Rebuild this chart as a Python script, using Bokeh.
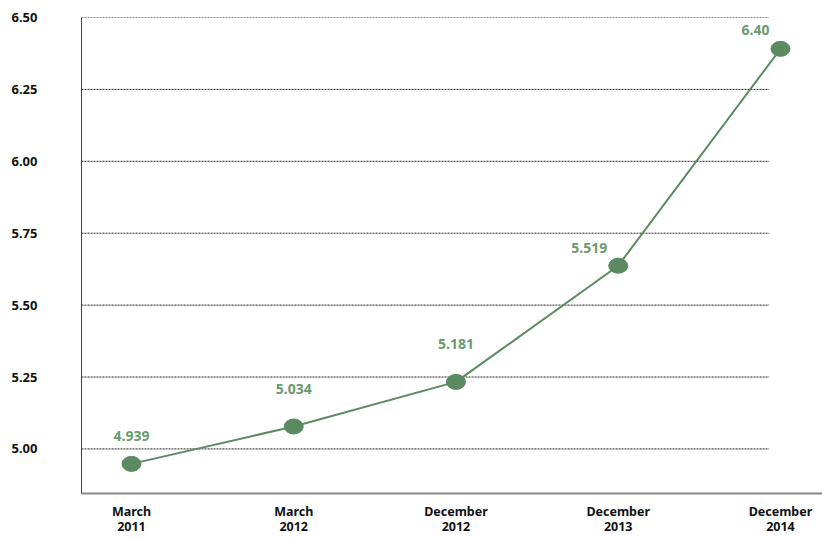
from bokeh.plotting import figure
from bokeh.models import ColumnDataSource, Range1d, FixedTicker, NumeralTickFormatter
from bokeh.core.properties import value
from bokeh.embed import file_html
from bokeh.resources import INLINE

# ---- data ----
periods = ["March\n2011", "March\n2012", "December\n2012", "December\n2013", "December\n2014"]
values = [4.948, 5.078, 5.233, 5.637, 6.391]
labels = ["4.939", "5.034", "5.181", "5.519", "6.40"]
y_ticks = [5.00, 5.25, 5.50, 5.75, 6.00, 6.25, 6.50]

GREEN = "#5b8a60"
LABEL_GREEN = "#6b9a6f"
FONT = "Noto Sans"

xs = list(range(len(periods)))
src = ColumnDataSource(dict(
    x=xs, y=values, label=labels,
    dx=[0, 0, 0, -29, -25],
    dy=[-28, -37, -38, -18, -19],
))

p = figure(width=822, height=538, output_backend="svg", toolbar_location=None,
           x_range=Range1d(-0.308, 4.259), y_range=Range1d(4.845, 6.5),
           min_border_left=81, min_border_right=0, min_border_top=17, min_border_bottom=45)
p.outline_line_color = None
p.xgrid.visible = False
p.ygrid.visible = False

# gridlines (stop short of the right edge like the reference)
grid_src = ColumnDataSource(dict(y=y_ticks, x0=[-0.308] * len(y_ticks), x1=[3.93] * len(y_ticks)))
p.segment(x0="x0", y0="y", x1="x1", y1="y", source=grid_src,
          line_color="#222222", line_width=1, line_dash="2 1")

p.line("x", "y", source=src, line_color=GREEN, line_width=2)
p.ellipse("x", "y", width=19, height=15, width_units="screen", height_units="screen",
          source=src, fill_color=GREEN, line_color=GREEN)
p.text("x", "y", text="label", x_offset="dx", y_offset="dy", source=src,
       text_font=value(FONT), text_font_style="bold", text_font_size="14px",
       text_color=LABEL_GREEN, text_align="center", text_baseline="middle")

# y axis
ya = p.yaxis[0]
ya.ticker = FixedTicker(ticks=y_ticks)
ya.formatter = NumeralTickFormatter(format="0.00")
ya.axis_line_color = "#444444"
ya.axis_line_width = 1
ya.major_tick_line_color = None
ya.minor_tick_line_color = None
ya.major_tick_out = 0
ya.major_tick_in = 0
ya.major_label_standoff = 44
ya.major_label_text_font = FONT
ya.major_label_text_font_style = "bold"
ya.major_label_text_font_size = "13px"
ya.major_label_text_color = "#111111"

# x axis
xa = p.xaxis[0]
xa.ticker = FixedTicker(ticks=xs)
xa.major_label_overrides = {i: periods[i] for i in xs}
xa.axis_line_color = "#8a8a8a"
xa.axis_line_width = 2
xa.major_tick_line_color = None
xa.minor_tick_line_color = None
xa.major_tick_out = 0
xa.major_tick_in = 0
xa.major_label_standoff = 9
xa.major_label_text_font = FONT
xa.major_label_text_font_style = "bold"
xa.major_label_text_font_size = "12.5px"
xa.major_label_text_color = "#111111"
xa.major_label_text_line_height = 0.92

open("out.html", "w").write(file_html(p, INLINE))
